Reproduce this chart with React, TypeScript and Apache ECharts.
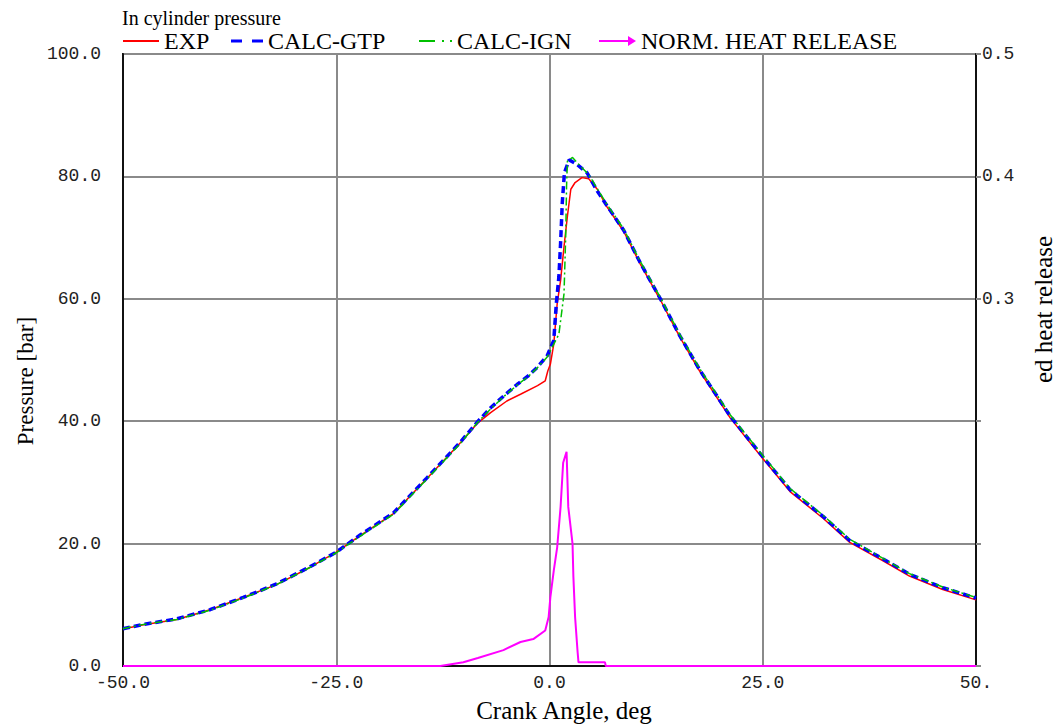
import React, { useEffect, useRef } from "react";
import * as echarts from "echarts";

// ---- Data ----
const crankExp = [-50, -47.6, -43.7, -39.8, -35.9, -32, -28.1, -25, -22.2, -18.3, -14.4, -10.5, -8.5, -6.9, -5, -3.4, -1.4, -0.5, -0.2, 0.1, 0.5, 0.9, 1.3, 1.7, 2.1, 2.5, 3.0, 3.8, 4.6, 5.6, 6.7, 8.7, 10.6, 13, 15.3, 17.6, 21.2, 25, 28.2, 32.1, 35.2, 39.1, 42.2, 46.1, 50];
const pressureExp = [6.05, 6.75, 7.6, 9.2, 11.2, 13.3, 16.1, 18.6, 21.3, 24.9, 30.6, 36.4, 39.6, 41.4, 43.3, 44.4, 45.8, 46.6, 48.2, 49.3, 52.6, 59.2, 63.0, 68.5, 73.5, 77.9, 79.0, 79.8, 79.6, 77.9, 75.1, 71.0, 65.8, 59.8, 53.7, 48.2, 40.5, 33.9, 28.5, 24.1, 20.2, 17.2, 14.7, 12.5, 10.8];

const crankGtp = [-50, -47.6, -43.7, -39.8, -35.9, -32, -28.1, -25, -22.2, -18.3, -14.4, -10.5, -8.5, -6.9, -5.3, -3.8, -2.5, -1.44, -0.27, 0.5, 0.8, 1.1, 1.3, 1.5, 1.75, 2.3, 3.2, 4.4, 5.6, 6.7, 8.7, 10.6, 13, 15.3, 17.6, 21.2, 25, 28.2, 32.1, 35.2, 39.1, 42.2, 46.1, 50];
const pressureGtp = [6.1, 6.8, 7.7, 9.2, 11.2, 13.4, 16.2, 18.6, 21.4, 25.0, 30.7, 36.5, 39.8, 42.2, 44.2, 46.0, 47.4, 48.8, 50.7, 53.2, 59.2, 63.6, 69.1, 75.7, 80.6, 82.7, 82.0, 80.6, 77.6, 75.3, 71.2, 66.0, 60.0, 53.9, 48.4, 40.8, 34.2, 28.8, 24.4, 20.5, 17.5, 15.0, 12.8, 11.1];

const crankIgn = [-50, -47.6, -43.7, -39.8, -35.9, -32, -28.1, -25, -22.2, -18.3, -14.4, -10.5, -8.5, -6.9, -5.3, -3.8, -2.5, -1.44, -0.27, 0.1, 1.1, 1.7, 1.9, 2.0, 2.1, 2.7, 3.6, 4.6, 5.6, 6.7, 8.7, 10.6, 13, 15.3, 17.6, 21.2, 25, 28.2, 32.1, 35.2, 39.1, 42.2, 46.1, 50];
const pressureIgn = [6.1, 6.8, 7.6, 9.1, 11.1, 13.3, 16.1, 18.5, 21.2, 24.8, 30.5, 36.3, 39.7, 42.0, 44.1, 45.9, 47.3, 48.7, 50.5, 51.5, 54.2, 60.8, 70.2, 78.4, 82.5, 83.1, 81.7, 80.3, 78.0, 75.5, 71.4, 66.2, 60.2, 54.1, 48.6, 41.0, 34.4, 29.0, 24.6, 20.7, 17.6, 15.1, 12.9, 11.2];

const crankHeat = [-50, -12.8, -10.1, -8.4, -5.4, -3.4, -1.9, -0.5, -0.1, 0.1, 0.5, 0.9, 1.3, 1.6, 2.0, 2.2, 2.7, 2.8, 3.0, 3.3, 3.4, 6.5, 6.6, 50];
const heatRelease = [0, 0, 0.003, 0.0065, 0.013, 0.0196, 0.022, 0.029, 0.040, 0.056, 0.078, 0.097, 0.130, 0.166, 0.175, 0.130, 0.100, 0.073, 0.040, 0.011, 0.003, 0.003, 0, 0];

const seriesNames = ["EXP", "CALC-GTP", "CALC-IGN", "NORM. HEAT RELEASE"];
const xTicks = { min: -50, max: 50, interval: 25 };
const yTicks = { min: 0, max: 100, interval: 20 };
const y2Ticks = { min: 0, max: 0.5, interval: 0.1 };

const zip = (xs: number[], ys: number[]) => xs.map((x, i) => [x, ys[i]]);

const MONO = '"Liberation Mono", "Courier New", monospace';
const SERIF = '"Liberation Serif", "Times New Roman", serif';

export default function App() {
  const ref = useRef<HTMLDivElement>(null);

  useEffect(() => {
    if (!ref.current) return;
    const chart = echarts.init(ref.current, null, { renderer: "svg" });

    const legendText = { fontFamily: SERIF, fontSize: 24, color: "#000", lineHeight: 24 };
    const legendBase = { top: 29, padding: 0, textStyle: legendText, selectedMode: false as const };

    chart.setOption({
      animation: false,
      backgroundColor: "#fff",
      title: {
        text: "In cylinder pressure",
        left: 122,
        top: 8,
        padding: 0,
        textStyle: { fontFamily: SERIF, fontSize: 20, fontWeight: "normal", color: "#000", lineHeight: 20 },
      },
      legend: [
        {
          ...legendBase,
          left: 123,
          itemWidth: 36,
          itemHeight: 2,
          data: [{ name: seriesNames[0], icon: "path://M0,0h36v2h-36z" }],
        },
        {
          ...legendBase,
          left: 231,
          itemWidth: 32,
          itemHeight: 3,
          data: [{ name: seriesNames[1], icon: "path://M0,0h11v3h-11zM21,0h11v3h-11z" }],
        },
        {
          ...legendBase,
          left: 419,
          itemWidth: 33,
          itemHeight: 2,
          data: [{ name: seriesNames[2], icon: "path://M0,0h16v2h-16zM23,0h2v2h-2zM31,0h2v2h-2z" }],
        },
        {
          ...legendBase,
          left: 599,
          itemWidth: 37,
          itemHeight: 10,
          data: [{ name: seriesNames[3], icon: "path://M0,4L29,4L29,0L37,5L29,10L29,6L0,6Z" }],
        },
      ],
      grid: {
        left: 123,
        right: 79,
        top: 54,
        bottom: 58,
        show: true,
        borderColor: "#111",
        borderWidth: 2,
        backgroundColor: "#fff",
      },
      xAxis: {
        type: "value",
        ...xTicks,
        axisLine: { show: true, onZero: false, lineStyle: { color: "#111", width: 2 } },
        axisTick: { show: false },
        splitLine: { show: true, lineStyle: { color: "#8a8a8a", width: 2 } },
        axisLabel: {
          fontFamily: MONO,
          fontSize: 18,
          color: "#222",
          margin: 8,
          formatter: (v: number) => (v === 50 ? "50." : v.toFixed(1)),
        },
      },
      yAxis: [
        {
          type: "value",
          ...yTicks,
          axisLine: { show: true, onZero: false, lineStyle: { color: "#111", width: 2 } },
          axisTick: { show: false },
          splitLine: { show: true, lineStyle: { color: "#8a8a8a", width: 2 } },
          axisLabel: {
            fontFamily: MONO,
            fontSize: 18,
            color: "#222",
            margin: 22,
            formatter: (v: number) => v.toFixed(1),
          },
        },
        {
          type: "value",
          position: "right",
          ...y2Ticks,
          axisLine: { show: true, onZero: false, lineStyle: { color: "#111", width: 2 } },
          axisTick: { show: true, length: 5, lineStyle: { color: "#8a8a8a", width: 2 } },
          splitLine: { show: false },
          axisLabel: {
            fontFamily: MONO,
            fontSize: 18,
            color: "#222",
            margin: 6,
            formatter: (v: number) => (v >= 0.29 ? v.toFixed(1) : ""),
          },
        },
      ],
      graphic: [
        {
          type: "text",
          x: 25,
          y: 381,
          rotation: Math.PI / 2,
          style: {
            text: "Pressure [bar]",
            fontFamily: SERIF,
            fontSize: 23,
            fill: "#000",
            align: "center",
            verticalAlign: "middle",
          },
        },
        {
          type: "text",
          x: 564,
          y: 710,
          style: {
            text: "Crank Angle, deg",
            fontFamily: SERIF,
            fontSize: 25,
            fill: "#000",
            align: "center",
            verticalAlign: "middle",
          },
        },
        {
          type: "text",
          x: 1043,
          y: 383,
          rotation: Math.PI / 2,
          style: {
            text: "ed heat release",
            fontFamily: SERIF,
            fontSize: 25,
            fill: "#000",
            align: "left",
            verticalAlign: "middle",
          },
        },
      ],
      series: [
        {
          name: seriesNames[0],
          type: "line",
          data: zip(crankExp, pressureExp),
          showSymbol: false,
          symbol: "none",
          lineStyle: { color: "#ff0000", width: 1.5 },
          itemStyle: { color: "#ff0000" },
          z: 3,
        },
        {
          name: seriesNames[1],
          type: "line",
          data: zip(crankGtp, pressureGtp),
          showSymbol: false,
          symbol: "none",
          lineStyle: { color: "#0000ff", width: 3.5, type: [7, 4] },
          itemStyle: { color: "#0000ff" },
          z: 4,
        },
        {
          name: seriesNames[2],
          type: "line",
          data: zip(crankIgn, pressureIgn),
          showSymbol: false,
          symbol: "none",
          lineStyle: { color: "#00c000", width: 1.5, type: [8, 3, 2, 3] },
          itemStyle: { color: "#00c000" },
          z: 5,
        },
        {
          name: seriesNames[3],
          type: "line",
          yAxisIndex: 1,
          data: zip(crankHeat, heatRelease),
          showSymbol: false,
          symbol: "none",
          lineStyle: { color: "#ff00ff", width: 2 },
          itemStyle: { color: "#ff00ff" },
          z: 2,
        },
      ],
    });

    return () => chart.dispose();
  }, []);

  return (
    <div
      ref={ref}
      style={{ position: "fixed", left: 0, top: 0, width: 1055, height: 724, background: "#fff" }}
    />
  );
}
